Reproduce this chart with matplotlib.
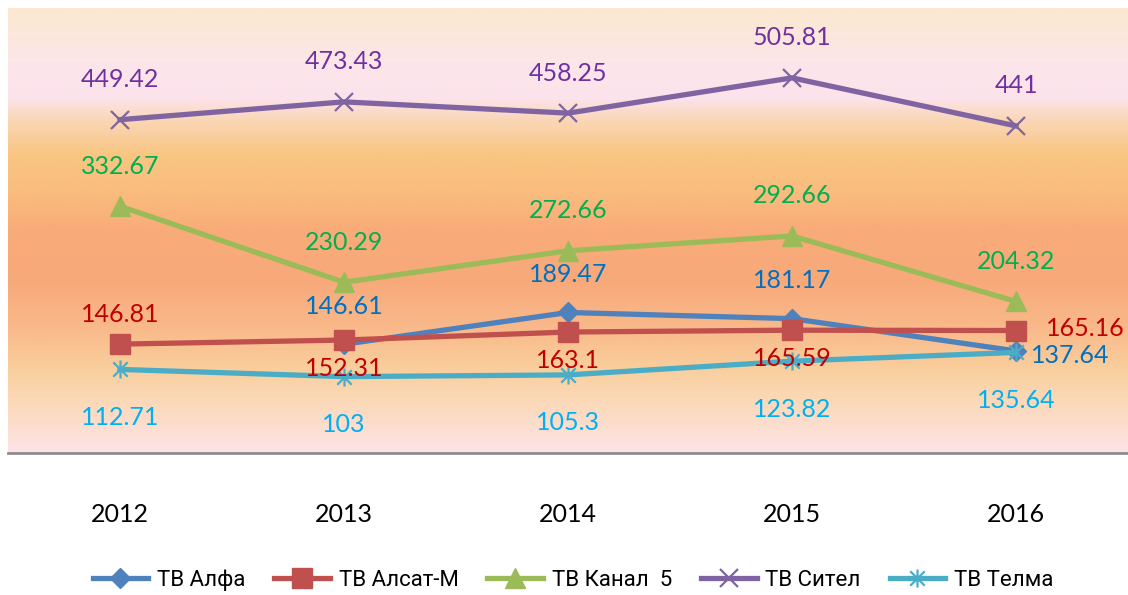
import numpy as np
import matplotlib
matplotlib.use("Agg")
import matplotlib.pyplot as plt
from matplotlib.colors import LinearSegmentedColormap
from matplotlib.path import Path

years = ["2012", "2013", "2014", "2015", "2016"]

alfa = [np.nan, 146.61, 189.47, 181.17, 137.64]
alsat = [146.81, 152.31, 163.1, 165.59, 165.16]
kanal5 = [332.67, 230.29, 272.66, 292.66, 204.32]
sitel = [449.42, 473.43, 458.25, 505.81, 441]
telma = [112.71, 103, 105.3, 123.82, 135.64]

names = ["ТВ Алфа", "ТВ Алсат-М", "ТВ Канал  5", "ТВ Сител", "ТВ Телма"]

# asterisk marker like excel
ast = Path([(-1, -1), (1, 1), (-1, 1), (1, -1), (0, -1.25), (0, 1.25)],
           [Path.MOVETO, Path.LINETO, Path.MOVETO, Path.LINETO, Path.MOVETO, Path.LINETO])

fig = plt.figure(figsize=(11.28, 5.95), dpi=100)
ax = fig.add_axes([8 / 1128, 1 - 453 / 595, 1 - 8 / 1128, 445 / 595])

# background gradient
stops = [(0.0, "#FDE3E6"), (0.12, "#FBD8B6"), (0.19, "#F9CE9C"), (0.28, "#F9B98A"),
         (0.39, "#F8A97A"), (0.50, "#F9AB78"), (0.59, "#F9BD7E"), (0.67, "#F9C581"),
         (0.75, "#FAD7B6"), (0.80, "#FCE3EC"), (0.88, "#FCE6EA"), (1.0, "#FBE8D0")]
cmap = LinearSegmentedColormap.from_list("bg", stops)
grad = np.linspace(0, 1, 400).reshape(-1, 1)
ax.imshow(grad, aspect="auto", cmap=cmap, origin="lower", extent=[0, 1, 0, 1],
          transform=ax.transAxes, zorder=0)

x = np.arange(len(years))
lw = 3.8
series = [
    (alfa, "#4F81BD", dict(marker="D", markersize=10)),
    (alsat, "#C0504D", dict(marker="s", markersize=14)),
    (kanal5, "#9BBB59", dict(marker="^", markersize=14)),
    (sitel, "#8064A2", dict(marker="x", markersize=13, markeredgewidth=1.6)),
    (telma, "#4BACC6", dict(marker=ast, markersize=13, markeredgewidth=1.6)),
]
for i, (vals, lc, mk) in enumerate(series):
    ax.plot(x, vals, color=lc, lw=lw, label=names[i], zorder=2 + i, **mk)

lab_font = dict(family="Lato", fontsize=18, zorder=20, ha="center", va="center")


def put(xi, v, color, dx, dy):
    ax.annotate(f"{v:g}", (xi, v), xytext=(dx, dy), textcoords="offset pixels",
                color=color, **lab_font)


for i in range(5):
    put(i, sitel[i], "#7030A0", 0, 40)
    put(i, kanal5[i], "#00B050", 0, 40)
    put(i, telma[i], "#00B0F0", 0, -48)
    if i == 0:
        put(i, alsat[i], "#C00000", 0, 30)
    elif i == 4:
        put(i, alsat[i], "#C00000", 69, 2)
    else:
        put(i, alsat[i], "#C00000", 0, -28)
    if not np.isnan(alfa[i]):
        if i == 4:
            put(i, alfa[i], "#0070C0", 54, -5)
        else:
            put(i, alfa[i], "#0070C0", 0, 38)

ax.set_xlim(-0.5, 4.5)
ax.set_ylim(0, 600)
ax.set_xticks(x)
ax.set_xticklabels(years, fontsize=18, family="Lato")
ax.tick_params(axis="x", length=0, pad=36)
ax.set_yticks([])
for s in ["top", "left", "right"]:
    ax.spines[s].set_visible(False)
ax.spines["bottom"].set_color("#8C8C8C")
ax.spines["bottom"].set_linewidth(2)
ax.spines["bottom"].set_zorder(30)

fig.legend(loc="center", bbox_to_anchor=(0.508, 0.025), ncol=5, frameon=False,
           prop=dict(family=["Roboto", "DejaVu Sans"], size=16),
           handlelength=2.5, columnspacing=1.3, handletextpad=0.4)

fig.savefig("out.png", dpi=100)
